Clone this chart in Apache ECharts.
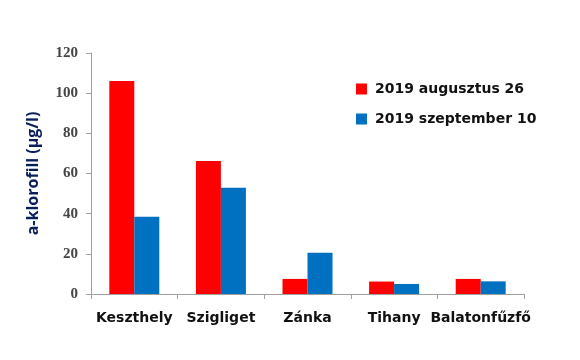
<!DOCTYPE html>
<html><head><meta charset="utf-8">
<script src="https://cdn.jsdelivr.net/npm/echarts@6/dist/echarts.min.js"></script>
<style>html,body{margin:0;padding:0;background:#fff}#c{width:580px;height:360px}</style>
</head><body><div id="c"></div>
<script>
const categories = ['Keszthely', 'Szigliget', 'Zánka', 'Tihany', 'Balatonfűzfő'];
const seriesNames = ['2019 augusztus 26', '2019 szeptember 10'];
const aug26 = [106, 66.2, 7.5, 6.2, 7.5];
const sep10 = [38.5, 52.9, 20.6, 5.0, 6.3];
const yTicks = [0, 20, 40, 60, 80, 100, 120];

const chart = echarts.init(document.getElementById('c'));
chart.setOption({
  animation: false,
  backgroundColor: '#fff',
  grid: { left: 91, right: 56, top: 53, bottom: 66 },
  legend: {
    orient: 'vertical', left: 351, top: 75,
    itemWidth: 11, itemHeight: 11, itemGap: 12,
    icon: 'rect',
    textStyle: { fontFamily: 'DejaVu Sans', fontWeight: 'bold', fontSize: 14, color: '#111', padding: [0,0,0,3], lineHeight: 18 },
    data: seriesNames
  },
  xAxis: {
    type: 'category', data: categories,
    axisLine: { lineStyle: { color: '#a0a0a0' } },
    axisTick: { show: true, length: 5, lineStyle: { color: '#a0a0a0' } },
    axisLabel: { interval: 0, fontFamily: 'DejaVu Sans', fontWeight: 'bold', fontSize: 14, color: '#111', margin: 17 }
  },
  yAxis: {
    type: 'value', min: yTicks[0], max: yTicks[yTicks.length - 1], interval: 20,
    name: 'a-klorofill (µg/l)', nameLocation: 'middle', nameGap: 50, nameRotate: 90,
    nameTextStyle: { fontFamily: 'Open Sans', fontWeight: 'bold', fontSize: 16, color: '#0a1e5a' },
    axisLine: { show: true, lineStyle: { color: '#a0a0a0' } },
    axisTick: { show: true, length: 5, lineStyle: { color: '#a0a0a0' } },
    splitLine: { show: false },
    axisLabel: { fontFamily: 'Liberation Serif', fontWeight: 'bold', fontSize: 15, color: '#444', margin: 13 }
  },
  series: [
    { name: seriesNames[0], type: 'bar', data: aug26, itemStyle: { color: '#ff0000' }, barWidth: 25, barGap: '0%' },
    { name: seriesNames[1], type: 'bar', data: sep10, itemStyle: { color: '#0070c0' }, barWidth: 25, barGap: '0%' }
  ]
});
</script></body></html>
